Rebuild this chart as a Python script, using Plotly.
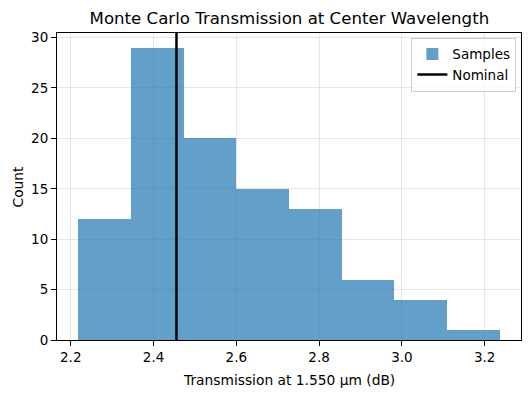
import plotly.graph_objects as go

# Data
bin_edges = [2.2177, 2.3451, 2.4725, 2.5999, 2.7273, 2.8547, 2.9821, 3.1095, 3.2369]
counts = [12, 29, 20, 15, 13, 6, 4, 1]
nominal = 2.4554

centers = [(a + b) / 2 for a, b in zip(bin_edges[:-1], bin_edges[1:])]
widths = [b - a for a, b in zip(bin_edges[:-1], bin_edges[1:])]

span = bin_edges[-1] - bin_edges[0]
x_range = [bin_edges[0] - 0.05 * span, bin_edges[-1] + 0.05 * span]
y_top = max(counts) * 1.05

fig = go.Figure()
fig.add_trace(go.Bar(
    x=centers, y=counts, width=widths, name="Samples",
    marker=dict(color="rgba(31,119,180,0.7)", line=dict(width=0)),
))
fig.add_trace(go.Scatter(
    x=[nominal, nominal], y=[0, y_top], mode="lines", name="Nominal",
    line=dict(color="black", width=2.5),
))

font = "DejaVu Sans, sans-serif"
axis_common = dict(
    showline=True, linecolor="black", linewidth=1, mirror=True,
    ticks="outside", ticklen=5, tickcolor="black", tickwidth=1,
    showgrid=True, gridcolor="rgba(176,176,176,0.3)", gridwidth=1,
    zeroline=False, tickfont=dict(family=font, size=13.5, color="black"),
    automargin=False,
)

fig.update_layout(
    width=531, height=393,
    margin=dict(l=57, r=10, t=33, b=53),
    paper_bgcolor="white", plot_bgcolor="white",
    bargap=0,
    title=dict(text="Monte Carlo Transmission at Center Wavelength",
               x=0.545, xanchor="center", y=1 - 18 / 393, yanchor="middle",
               font=dict(family=font, size=16.6, color="black"), automargin=False),
    xaxis=dict(range=x_range, tickvals=[2.2, 2.4, 2.6, 2.8, 3.0, 3.2],
               ticktext=["2.2", "2.4", "2.6", "2.8", "3.0", "3.2"],
               **axis_common),
    yaxis=dict(range=[0, y_top], tickvals=[0, 5, 10, 15, 20, 25, 30],
               **axis_common),
    legend=dict(x=0.99, y=0.985, xanchor="right", yanchor="top",
                bgcolor="rgba(255,255,255,0.8)", bordercolor="#cccccc", borderwidth=1,
                font=dict(family=font, size=13.5, color="black"), tracegroupgap=2),
    showlegend=True,
    annotations=[
        dict(text="Transmission at 1.550 µm (dB)", xref="paper", yref="paper",
             x=0.5, y=-40 / 307, xanchor="center", yanchor="middle", showarrow=False,
             font=dict(family=font, size=13.8, color="black")),
        dict(text="Count", xref="paper", yref="paper", x=-40 / 464, y=0.5,
             xanchor="center", yanchor="middle", textangle=-90, showarrow=False,
             font=dict(family=font, size=13.8, color="black")),
    ],
)

fig.write_html("out.html", config={"displayModeBar": False},
               post_script="document.body.style.margin='0px';document.body.style.padding='0px';")
